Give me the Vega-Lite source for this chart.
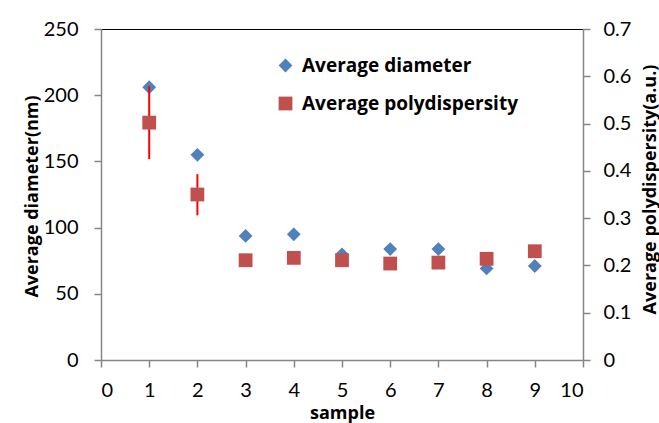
{
  "$schema": "https://vega.github.io/schema/vega-lite/v6.json",
  "autosize": {"type": "none"},
  "width": 482,
  "height": 331,
  "padding": {"left": 101, "top": 29, "right": 76, "bottom": 63},
  "background": "white",
  "config": {
    "view": {"stroke": null},
    "font": "Lato",
    "axis": {
      "grid": false,
      "domainColor": "#868686",
      "domainWidth": 1.5,
      "tickColor": "#868686",
      "tickWidth": 1.5,
      "tickSize": 7,
      "labelFont": "Lato",
      "labelFontSize": 20,
      "labelColor": "#000000",
      "titleFont": "Open Sans",
      "titleFontSize": 18,
      "titleFontWeight": "bold",
      "titleColor": "#000000"
    }
  },
  "data": {
    "values": [
      {"sample": 1, "diameter": 206, "poly": 0.502, "poly_lo": 0.425, "poly_hi": 0.579},
      {"sample": 2, "diameter": 155, "poly": 0.350, "poly_lo": 0.306, "poly_hi": 0.393},
      {"sample": 3, "diameter": 93.7, "poly": 0.211, "poly_lo": 0.203, "poly_hi": 0.219},
      {"sample": 4, "diameter": 94.9, "poly": 0.216, "poly_lo": 0.208, "poly_hi": 0.224},
      {"sample": 5, "diameter": 79.8, "poly": 0.211, "poly_lo": 0.203, "poly_hi": 0.219},
      {"sample": 6, "diameter": 83.8, "poly": 0.204, "poly_lo": 0.196, "poly_hi": 0.212},
      {"sample": 7, "diameter": 83.8, "poly": 0.206, "poly_lo": 0.198, "poly_hi": 0.214},
      {"sample": 8, "diameter": 69.2, "poly": 0.214, "poly_lo": 0.206, "poly_hi": 0.222},
      {"sample": 9, "diameter": 71.0, "poly": 0.230, "poly_lo": 0.222, "poly_hi": 0.238}
    ]
  },
  "resolve": {"scale": {"y": "independent"}, "axis": {"x": "independent", "y": "independent"}},
  "layer": [
    {
      "mark": {"type": "point", "filled": true, "opacity": 1, "size": 190},
      "encoding": {
        "x": {
          "field": "sample", "type": "quantitative",
          "scale": {"domain": [0, 10], "nice": false, "zero": false},
          "axis": {
            "orient": "bottom",
            "values": [0, 1, 2, 3, 4, 5, 6, 7, 8, 9, 10],
            "labelPadding": 13,
            "title": "sample",
            "titleY": 53,
            "titleBaseline": "middle"
          }
        },
        "y": {
          "field": "diameter", "type": "quantitative",
          "scale": {"domain": [0, 250], "nice": false},
          "axis": {
            "orient": "left",
            "values": [0, 50, 100, 150, 200, 250],
            "labelPadding": 16,
            "title": "Average diameter(nm)",
            "titleAngle": -90,
            "titleX": -69,
            "titleY": 167,
            "titleAlign": "center",
            "titleBaseline": "middle"
          }
        },
        "color": {
          "datum": "Average diameter",
          "scale": {"domain": ["Average diameter", "Average polydispersity"], "range": ["#4F81BD", "#C0504D"]},
          "legend": {
            "orient": "none",
            "legendX": 175,
            "legendY": 27,
            "title": null,
            "padding": 0,
            "rowPadding": 18,
            "labelFont": "Open Sans",
            "labelFontSize": 19,
            "labelFontWeight": "bold",
            "labelColor": "#000000",
            "labelOffset": 7,
            "labelLimit": 400,
            "symbolSize": 190,
            "symbolStrokeWidth": 0,
            "symbolOpacity": 1
          }
        },
        "shape": {
          "datum": "Average diameter",
          "scale": {"domain": ["Average diameter", "Average polydispersity"], "range": ["diamond", "square"]},
          "legend": null
        }
      }
    },
    {
      "layer": [
        {
          "mark": {"type": "rule", "color": "#FF0000", "strokeWidth": 2},
          "encoding": {
            "x": {"field": "sample", "type": "quantitative"},
            "y": {"field": "poly_lo", "type": "quantitative"},
            "y2": {"field": "poly_hi"}
          }
        },
        {
          "mark": {"type": "point", "filled": true, "opacity": 1, "size": 190},
          "encoding": {
            "x": {"field": "sample", "type": "quantitative"},
            "y": {"field": "poly", "type": "quantitative"},
            "color": {"datum": "Average polydispersity"},
            "shape": {"datum": "Average polydispersity"}
          }
        }
      ],
      "encoding": {
        "x": {
          "field": "sample", "type": "quantitative",
          "scale": {"domain": [0, 10], "nice": false, "zero": false},
          "axis": {
            "orient": "top",
            "domainColor": "#000000",
            "domainWidth": 1.2,
            "ticks": false,
            "labels": false,
            "title": null
          }
        },
        "y": {
          "field": "poly", "type": "quantitative",
          "scale": {"domain": [0, 0.7], "nice": false},
          "axis": {
            "orient": "right",
            "values": [0, 0.1, 0.2, 0.3, 0.4, 0.5, 0.6, 0.7],
            "format": ".1~f",
            "labelPadding": 13,
            "title": "Average polydispersity(a.u.)",
            "titleAngle": -90,
            "titleX": 67,
            "titleY": 160,
            "titleAlign": "center",
            "titleBaseline": "middle"
          }
        }
      }
    }
  ]
}
